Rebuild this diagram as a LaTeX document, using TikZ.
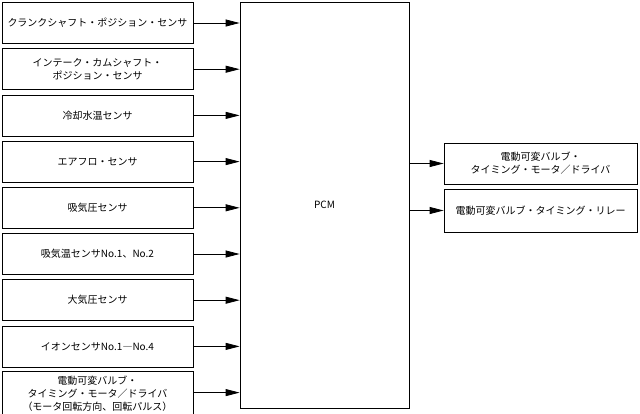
\documentclass[tikz,border=0pt]{standalone}
\usepackage{fontspec}
\setmainfont{Noto Sans CJK JP}
\usetikzlibrary{arrows.meta}
\begin{document}
\begin{tikzpicture}[x=1pt,y=-1pt,
  box/.style={draw=black,line width=0.8pt,fill=white,minimum width=191pt,minimum height=41pt,inner sep=0pt,align=center,font=\fontsize{10}{13}\selectfont},
  rbox/.style={box,minimum width=193pt},
  arr/.style={draw=black,line width=0.8pt,-{Triangle[length=14pt,width=7pt]}}]
\useasboundingbox (0,0) rectangle (640,413);
\node[draw=black,line width=0.8pt,minimum width=169pt,minimum height=406pt,inner sep=0pt,font=\fontsize{10}{13}\selectfont] (pcm) at (324.5,205) {PCM};
\node[box] (b1) at (97.5,23) {クランクシャフト・ポジション・センサ};
\node[box] (b2) at (97.5,69.2) {インテーク・カムシャフト・\\ポジション・センサ};
\node[box] (b3) at (97.5,115.4) {冷却水温センサ};
\node[box] (b4) at (97.5,161.6) {エアフロ・センサ};
\node[box] (b5) at (97.5,207.8) {吸気圧センサ};
\node[box] (b6) at (97.5,254) {吸気温センサNo.1、No.2};
\node[box] (b7) at (97.5,300.2) {大気圧センサ};
\node[box] (b8) at (97.5,346.4) {イオンセンサNo.1―No.4};
\node[box,minimum height=44pt] (b9) at (97.5,393.6) {電動可変バルブ・\\タイミング・モータ／ドライバ\\（モータ回転方向、回転パルス）};
\node[rbox] (r1) at (540.5,163.5) {電動可変バルブ・\\タイミング・モータ／ドライバ};
\node[rbox,minimum height=43pt] (r2) at (540.5,210.5) {電動可変バルブ・タイミング・リレー};
\foreach \i in {1,...,8} {\draw[arr] (b\i.east) -- (b\i.east -| pcm.west);}
\coordinate (a9) at ([yshift=1pt]b9.east);
\draw[arr] (a9) -- (a9 -| pcm.west);
\draw[arr] (pcm.east |- r1.west) -- (r1.west);
\draw[arr] (pcm.east |- r2.west) -- (r2.west);
\end{tikzpicture}
\end{document}
